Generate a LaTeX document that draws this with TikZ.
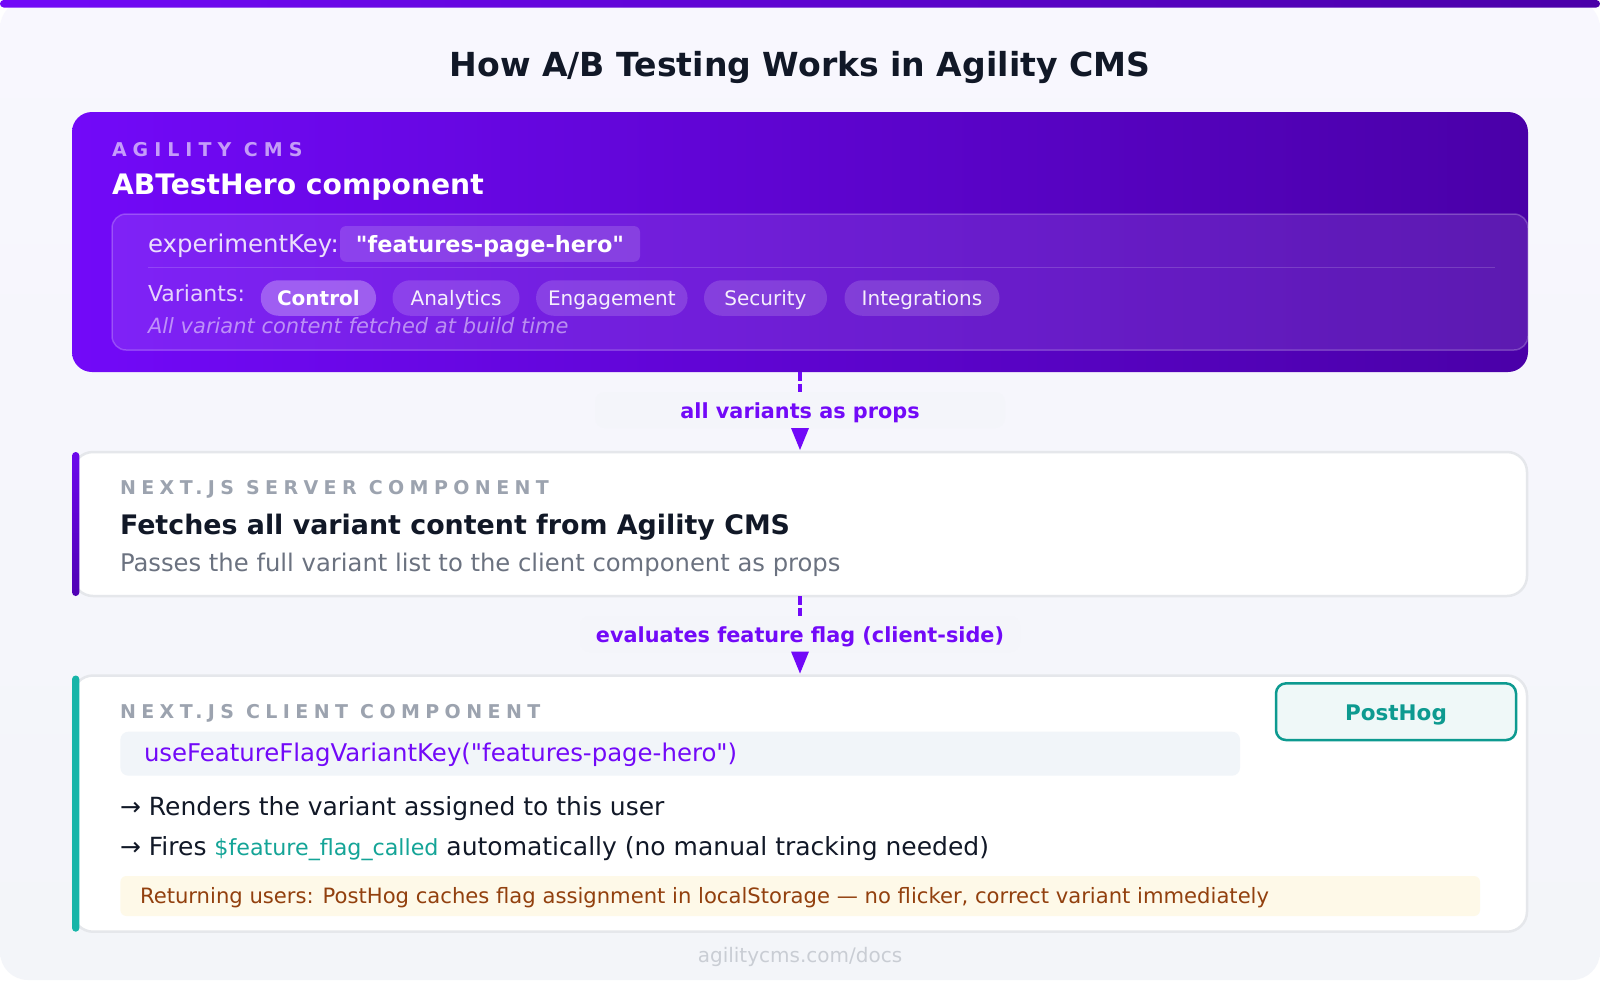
\documentclass[tikz,border=0pt]{standalone}
\usepackage{fontspec}
\setmainfont{DejaVu Sans}[Ligatures=TeXOff]
\newfontfamily\trackA{DejaVu Sans}[LetterSpace=31.6,Ligatures=TeXOff]
\newfontfamily\trackB{DejaVu Sans}[LetterSpace=28.5,Ligatures=TeXOff]
\usetikzlibrary{arrows.meta}
\definecolor{accV}{HTML}{7209F8}
\definecolor{deepV}{HTML}{4A00A8}
\definecolor{bgTop}{HTML}{F8F7FE}
\definecolor{bgBot}{HTML}{F3F5F9}
\definecolor{ink}{HTML}{111827}
\definecolor{mutedG}{HTML}{9CA3AF}
\definecolor{subG}{HTML}{6B7280}
\definecolor{borderG}{HTML}{E5E7EB}
\definecolor{tealA}{HTML}{17B5A8}
\definecolor{tealD}{HTML}{0D9A90}
\definecolor{tealF}{HTML}{14A497}
\definecolor{tealBg}{HTML}{EFF8F8}
\definecolor{codeBg}{HTML}{F1F5F9}
\definecolor{noteBg}{HTML}{FEF9E8}
\definecolor{noteTx}{HTML}{92400E}
\definecolor{labBg}{HTML}{F4F5FA}
\definecolor{footG}{HTML}{C9CDD4}
\newcommand\fsz[1]{\fontsize{#1pt}{#1pt}\selectfont}
\begin{document}
\begin{tikzpicture}[x=1pt,y=-1pt,
  txt/.style={inner sep=0pt, outer sep=0pt, anchor=base west},
  ctxt/.style={inner sep=0pt, outer sep=0pt, anchor=base},
  cmsbox/.style={inner sep=0pt, outer sep=0pt, rounded corners=20pt, left color=accV, right color=deepV},
  card/.style={inner sep=0pt, outer sep=0pt, rounded corners=20pt, fill=white, draw=borderG, line width=2.5pt},
  accentbar/.style={inner sep=0pt, outer sep=0pt, rounded corners=3.6pt, minimum width=7.3pt},
  pill/.style={inner sep=0pt, outer sep=0pt, rounded corners=17.7pt, fill=white, fill opacity=0.15, text=white, text opacity=0.92, minimum height=35.5pt, text height=14.6pt, text depth=0pt, font=\fsz{20}},
  labbox/.style={inner sep=0pt, outer sep=0pt, rounded corners=10pt, fill=labBg, minimum height=36pt},
  labtext/.style={ctxt, text=accV, font=\fsz{20.8}\bfseries},
  dashconn/.style={draw=accV, line width=3.5pt, dash pattern=on 8.5pt off 3pt},
  arrowconn/.style={draw=accV, line width=3.5pt, -{Triangle[length=22pt,width=18pt,line width=0pt]}, shorten >=2pt},
  kicker/.style={txt, text=mutedG, font=\trackB\bfseries\fsz{19}}
]
\useasboundingbox (0,0) rectangle (1600,980);
% background
\fill[white] (0,0) rectangle (1600,980);
\shade[top color=bgTop, bottom color=bgBot, rounded corners=28pt] (0,0) rectangle (1600,980);
\shade[left color=accV, right color=deepV, rounded corners=3.7pt] (0,0) rectangle (1600,7.5);

% title
\node[ctxt, text=ink, font=\fsz{33.1}\bfseries] (title) at (800,76) {How A/B Testing Works in Agility CMS};

% ---------- Agility CMS card ----------
\node[cmsbox, minimum width=1456pt, minimum height=260pt] (cms) at (800,242) {};
\node[txt, text=white, text opacity=0.6, font=\trackA\bfseries\fsz{19}] (cmskick) at (112,156) {AGILITY CMS};
\node[txt, text=white, font=\fsz{28.2}\bfseries] (cmstitle) at (112,194) {ABTestHero component};
\node[inner sep=0pt, outer sep=0pt, minimum width=1416pt, minimum height=136pt, rounded corners=14pt, fill=white, fill opacity=0.1, draw=white, draw opacity=0.22, line width=1.5pt] (inner) at (820,282) {};
\node[txt, text=white, text opacity=0.85, font=\fsz{24.4}] (expkey) at (148,252) {experimentKey:};
\node[inner sep=0pt, outer sep=0pt, minimum width=300pt, minimum height=35.7pt, rounded corners=6pt, fill=white, fill opacity=0.15, text=white, text opacity=1, text height=16.8pt, text depth=0pt, font=\fsz{22.4}\bfseries] (keypill) at (490,243.9) {"features-page-hero"};
\draw[white, draw opacity=0.16, line width=1.5pt] (148,267.5) -- (1495,267.5);
\node[txt, text=white, text opacity=0.8, font=\fsz{22}] (varlab) at (148,301.5) {Variants:};
\node[pill, minimum width=115.3pt, fill opacity=0.28, text opacity=1, font=\fsz{20}\bfseries] (pControl) at (318.4,298) {Control};
\node[pill, minimum width=127pt] (pAnalytics) at (456,298) {Analytics};
\node[pill, minimum width=151.5pt] (pEngagement) at (611.8,298) {Engagement};
\node[pill, minimum width=123pt] (pSecurity) at (765.5,298) {Security};
\node[pill, minimum width=155pt] (pIntegrations) at (922,298) {Integrations};
\node[txt, text=white, text opacity=0.5, font=\fsz{21}\itshape] (buildnote) at (148,333.3) {All variant content fetched at build time};

% ---------- Server card ----------
\node[card, minimum width=1454pt, minimum height=144pt] (server) at (800,524) {};
\node[accentbar, minimum height=144pt, top color=accV!95!black, bottom color=deepV!85!accV] (serverbar) at (75.7,524) {};
\node[kicker] (srvkick) at (120,494) {NEXT.JS SERVER COMPONENT};
\node[txt, text=ink, font=\fsz{26.86}\bfseries] (srvtitle) at (120,534) {Fetches all variant content from Agility CMS};
\node[txt, text=subG, font=\fsz{24.27}] (srvsub) at (120,571.7) {Passes the full variant list to the client component as props};

% ---------- Client card ----------
\node[card, minimum width=1454pt, minimum height=256.2pt] (client) at (800,803.6) {};
\node[accentbar, minimum height=256.2pt, fill=tealA] (clientbar) at (75.7,803.6) {};
\node[kicker] (clikick) at (120,718) {NEXT.JS CLIENT COMPONENT};
\node[inner sep=0pt, outer sep=0pt, minimum width=1119.6pt, minimum height=44pt, rounded corners=8pt, fill=codeBg] (codebox) at (680.2,753.7) {};
\node[txt, text=accV, font=\fsz{24.4}] (codetext) at (144,761.7) {useFeatureFlagVariantKey("features-page-hero")};
\node[txt, text=ink, font=\fsz{25}] (renders) at (120,815) {→ Renders the variant assigned to this user};
\node[txt, text=ink, font=\fsz{25}] (fires) at (120,855) {→ Fires {\color{tealF}\fsz{22.2}\$feature\_flag\_called} automatically (no manual tracking needed)};
\node[inner sep=0pt, outer sep=0pt, minimum width=1359.6pt, minimum height=40pt, rounded corners=6pt, fill=noteBg] (notebox) at (800.2,896) {};
\node[txt, text=noteTx, font=\fsz{21.13}] (notetext) at (140,903.3) {Returning users: PostHog caches flag assignment in localStorage — no flicker, correct variant immediately};
\node[inner sep=0pt, outer sep=0pt, minimum width=240pt, minimum height=56.7pt, rounded corners=10pt, fill=tealBg, draw=tealD, line width=2.5pt, text=tealD, text height=16.6pt, text depth=0pt, font=\fsz{21.5}\bfseries] (posthog) at (1396,711.7) {PostHog};

% ---------- connectors ----------
\draw[dashconn] (cms.south) -- (800,392);
\node[labbox, minimum width=410pt] (lab1) at (800,410) {};
\node[labtext] (lab1t) at (800,418) {all variants as props};
\draw[arrowconn] (lab1.south) -- (server.north);

\draw[dashconn] (server.south) -- (800,616);
\node[labbox, minimum width=440pt] (lab2) at (800,634) {};
\node[labtext] (lab2t) at (800,642) {evaluates feature flag (client-side)};
\draw[arrowconn] (lab2.south) -- (client.north);

% footer
\node[ctxt, text=footG, font=\fsz{20}] (footer) at (800,962) {agilitycms.com/docs};
\end{tikzpicture}
\end{document}
